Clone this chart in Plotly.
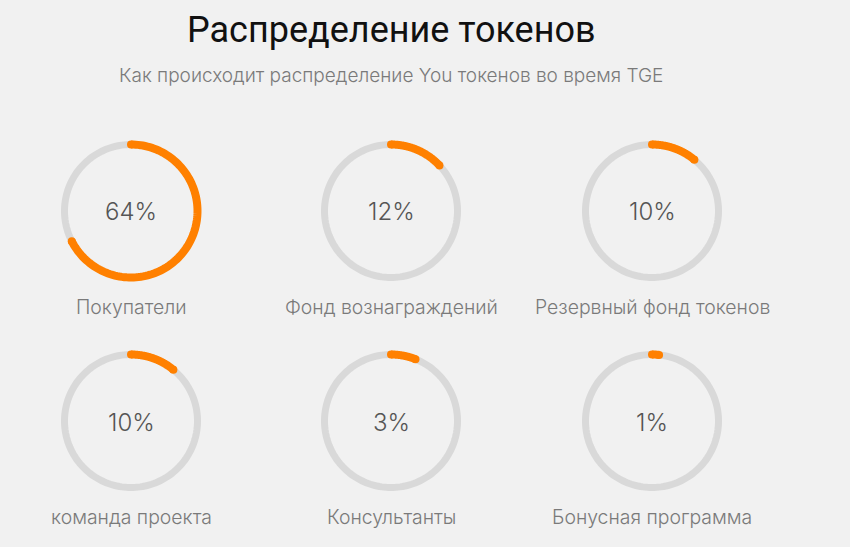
import numpy as np
import plotly.graph_objects as go

W = 850
H = 547

title = "Распределение токенов"
subtitle = "Как происходит распределение You токенов во время TGE"

names = ["Покупатели", "Фонд вознаграждений", "Резервный фонд токенов",
         "команда проекта", "Консультанты", "Бонусная программа"]
percent_labels = ["64%", "12%", "10%", "10%", "3%", "1%"]
# the drawn arcs run a little longer than the printed percentages
arc_percent = [67.5, 13, 11, 11, 6, 1.7]

# ring centres in pixels
centers_x = [131, 391, 652, 131, 391, 652]
centers_y = [211, 211, 211, 421, 421, 421]
RING_R = 66.5
BOX_R = 74  # polar box is a bit larger so the thick line is not cut

LIGHT = "Inter Light, Inter Thin, Inter"

fig = go.Figure()
polar_layout = {}
notes = []

for i in range(6):
    key = "polar" if i == 0 else "polar%d" % (i + 1)
    cx, cy = centers_x[i], centers_y[i]
    polar_layout[key] = dict(
        domain=dict(x=[(cx - BOX_R) / W, (cx + BOX_R) / W],
                    y=[1 - (cy + BOX_R) / H, 1 - (cy - BOX_R) / H]),
        bgcolor="rgba(0,0,0,0)",
        radialaxis=dict(visible=False, range=[0, BOX_R / RING_R]),
        angularaxis=dict(visible=False, rotation=90, direction="clockwise"),
    )
    track = np.arange(0, 361, 2)
    fig.add_trace(go.Scatterpolar(r=[1] * len(track), theta=track, mode="lines", subplot=key,
                                  line=dict(color="#d9d9d9", width=7), cliponaxis=False,
                                  hoverinfo="skip"))
    arc = np.linspace(0, arc_percent[i] * 3.6, 120)
    fig.add_trace(go.Scatterpolar(r=[1] * len(arc), theta=arc, mode="lines", subplot=key,
                                  line=dict(color="#ff8000", width=8), cliponaxis=False,
                                  hoverinfo="skip"))
    # round ends
    fig.add_trace(go.Scatterpolar(r=[1, 1], theta=[arc[0], arc[-1]], mode="markers", subplot=key,
                                  marker=dict(color="#ff8000", size=8), cliponaxis=False,
                                  hoverinfo="skip"))
    notes.append(dict(x=cx / W, y=1 - (cy + 1) / H, text=percent_labels[i], showarrow=False,
                      xref="paper", yref="paper", xanchor="center", yanchor="middle",
                      font=dict(family=LIGHT, size=24, color="#555555", weight=300)))
    notes.append(dict(x=cx / W, y=1 - (cy + 96) / H, text=names[i], showarrow=False,
                      xref="paper", yref="paper", xanchor="center", yanchor="middle",
                      font=dict(family=LIGHT, size=19.4, color="#7a7a7a", weight=300)))

notes.append(dict(x=391 / W, y=1 - 30 / H, text=title, showarrow=False,
                  xref="paper", yref="paper", xanchor="center", yanchor="middle",
                  font=dict(family="Roboto", size=36, color="#111111")))
notes.append(dict(x=391 / W, y=1 - 76 / H, text=subtitle, showarrow=False,
                  xref="paper", yref="paper", xanchor="center", yanchor="middle",
                  font=dict(family=LIGHT, size=19, color="#7a7a7a", weight=300)))

fig.update_layout(width=W, height=H, margin=dict(l=0, r=0, t=0, b=0),
                  paper_bgcolor="#f1f1f1", plot_bgcolor="#f1f1f1",
                  showlegend=False, annotations=notes, **polar_layout)

fig.write_html("out.html", config=dict(displayModeBar=False),
               post_script="document.body.style.margin='0';")
